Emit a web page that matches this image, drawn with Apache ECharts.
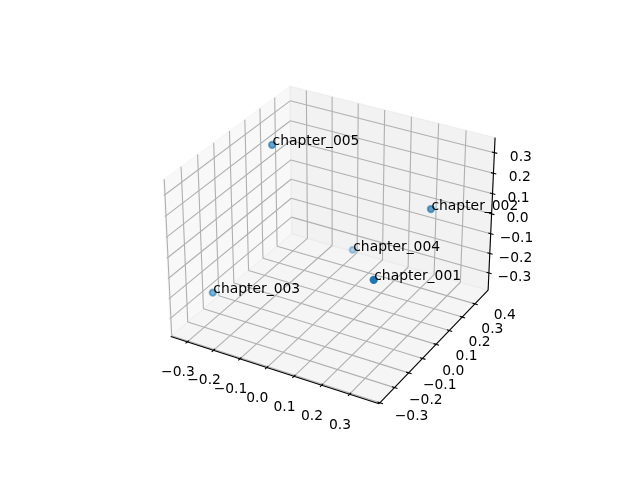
<!DOCTYPE html>
<html>
<head>
<meta charset="utf-8">
<style>html,body{margin:0;padding:0;background:#fff}#c{width:640px;height:480px}</style>
<script src="https://cdn.jsdelivr.net/npm/echarts@6/dist/echarts.min.js"></script>
</head>
<body>
<div id="c"></div>
<script>
// ---- data ----
const names = ['chapter_001', 'chapter_002', 'chapter_003', 'chapter_004', 'chapter_005'];
const xs = [0.3606, 0.2858, -0.3319, -0.0995, -0.2229];
const ys = [-0.2682, 0.2829, -0.0890, 0.4710, 0.1342];
const zs = [0.1567, 0.1160, -0.3013, -0.3531, 0.3341];
const xTicks = [-0.3, -0.2, -0.1, 0.0, 0.1, 0.2, 0.3];
const yTicks = [-0.3, -0.2, -0.1, 0.0, 0.1, 0.2, 0.3, 0.4];
const zTicks = [-0.3, -0.2, -0.1, 0.0, 0.1, 0.2, 0.3];
const xLim = [-0.3643, 0.4041];
const yLim = [-0.3064, 0.5057];
const zLim = [-0.3898, 0.3722];

// ---- 3D projection: elevation 30, azimuth about -60, eye distance 10 ----
const elev = 30 * Math.PI / 180, azim = -60.33 * Math.PI / 180, dist = 10;
const boxScale = 1.8294640721620434 * 25 / 24 / Math.sqrt(41);
const box = [4 * boxScale, 4 * boxScale, 3 * boxScale];
const W = [Math.cos(elev) * Math.cos(azim), Math.cos(elev) * Math.sin(azim), Math.sin(elev)];
const n0 = Math.hypot(W[1], W[0]);
const U = [-W[1] / n0, W[0] / n0, 0];
const V = [W[1] * U[2] - W[2] * U[1], W[2] * U[0] - W[0] * U[2], W[0] * U[1] - W[1] * U[0]];
const dot = (a, b) => a[0] * b[0] + a[1] * b[1] + a[2] * b[2];
function toBox(x, y, z) {
  return [
    ((x - xLim[0]) / (xLim[1] - xLim[0]) - 0.5) * box[0],
    ((y - yLim[0]) / (yLim[1] - yLim[0]) - 0.5) * box[1],
    ((z - zLim[0]) / (zLim[1] - zLim[0]) - 0.5) * box[2]
  ];
}
function projBox(b) {
  const d = dist - dot(b, W);
  return [dot(b, U) / d, dot(b, V) / d];
}
const proj = (x, y, z) => projBox(toBox(x, y, z));
const projOff = (x, y, z, o) => {
  const b = toBox(x, y, z);
  return projBox([b[0] + o[0], b[1] + o[1], b[2] + o[2]]);
};
const depthOf = (x, y, z) => dot(toBox(x, y, z), W);

const [x0, x1] = xLim, [y0, y1] = yLim, [z0, z1] = zLim;

// ---- panes ----
const paneColors = ['rgba(242,242,242,0.5)', 'rgba(230,230,230,0.5)', 'rgba(236,236,236,0.5)'];
const paneCorners = [
  [[x0, y0, z0], [x0, y1, z0], [x0, y1, z1], [x0, y0, z1]],
  [[x0, y1, z0], [x1, y1, z0], [x1, y1, z1], [x0, y1, z1]],
  [[x0, y0, z0], [x1, y0, z0], [x1, y1, z0], [x0, y1, z0]]
];
const paneData = paneCorners.map(c => c.map(p => proj(p[0], p[1], p[2])).flat());

// ---- grid lines, axis lines, tick marks ----
const seg = (a, b) => proj(a[0], a[1], a[2]).concat(proj(b[0], b[1], b[2]));
const gridData = [];
xTicks.forEach(t => {
  gridData.push(seg([t, y0, z0], [t, y1, z0]), seg([t, y1, z0], [t, y1, z1]));
});
yTicks.forEach(t => {
  gridData.push(seg([x1, t, z0], [x0, t, z0]), seg([x0, t, z0], [x0, t, z1]));
});
zTicks.forEach(t => {
  gridData.push(seg([x0, y0, t], [x0, y1, t]), seg([x0, y1, t], [x1, y1, t]));
});
const axisData = [
  seg([x0, y0, z0], [x1, y0, z0]),
  seg([x1, y0, z0], [x1, y1, z0]),
  seg([x1, y1, z0], [x1, y1, z1])
];
const tickIn = 0.014, tickOut = 0.016;
xTicks.forEach(t => axisData.push(
  projOff(t, y0, z0, [0, tickIn, 0]).concat(projOff(t, y0, z0, [0, -tickOut, 0]))));
yTicks.forEach(t => axisData.push(
  projOff(x1, t, z0, [-tickIn, 0, 0]).concat(projOff(x1, t, z0, [tickOut, 0, 0]))));
zTicks.forEach(t => axisData.push(
  projOff(x1, y1, t, [-tickIn, 0, 0]).concat(projOff(x1, y1, t, [tickOut, 0, 0]))));

// ---- tick labels ----
const fmt = v => v.toFixed(1).replace('-', '\u2212');
const tickLabels = [];
const tickPoints = [];
xTicks.forEach(t => { tickLabels.push(fmt(t)); tickPoints.push(projOff(t, y0, z0, [0, -0.093, -0.117])); });
yTicks.forEach(t => { tickLabels.push(fmt(t)); tickPoints.push(projOff(x1, t, z0, [0.17, 0, -0.009])); });
zTicks.forEach(t => { tickLabels.push(fmt(t)); tickPoints.push(projOff(x1, y1, t, [0.127, 0.0401, 0])); });

// ---- points, with depth shading ----
const depths = names.map((_, i) => depthOf(xs[i], ys[i], zs[i]));
const dMin = Math.min(...depths), dMax = Math.max(...depths);
const order = names.map((_, i) => i).sort((a, b) => depths[a] - depths[b]);
const pointData = order.map(i => ({
  value: proj(xs[i], ys[i], zs[i]),
  itemStyle: { opacity: 0.3 + 0.7 * (depths[i] - dMin) / (dMax - dMin) }
}));
const namePoints = names.map((_, i) => proj(xs[i], ys[i], zs[i]));

const FONT = '13.89px "DejaVu Sans"';
const GRID_W = 369.6;

const lineItem = (color, width) => (params, api) => {
  const a = api.coord([api.value(0), api.value(1)]);
  const b = api.coord([api.value(2), api.value(3)]);
  return {
    type: 'line',
    shape: { x1: a[0], y1: a[1], x2: b[0], y2: b[1] },
    style: { stroke: color, lineWidth: width, fill: null }
  };
};
const textItem = (labels, dx, dy, align) => (params, api) => {
  const p = api.coord([api.value(0), api.value(1)]);
  return {
    type: 'text',
    style: {
      x: p[0] + dx, y: p[1] + dy, text: labels[params.dataIndex],
      font: FONT, fill: '#000', align: align, verticalAlign: 'middle'
    }
  };
};

const chart = echarts.init(document.getElementById('c'), null, { renderer: 'canvas' });
chart.setOption({
  animation: false,
  backgroundColor: '#fff',
  grid: { left: 142.6, top: 57.6, width: GRID_W, height: GRID_W, containLabel: false },
  xAxis: { type: 'value', min: -0.095, max: 0.09, show: false },
  yAxis: { type: 'value', min: -0.095, max: 0.09, show: false },
  tooltip: { show: false },
  series: [
    {
      type: 'custom', name: 'panes', silent: true, clip: false, z: 1,
      data: paneData, encode: { x: [0, 2, 4, 6], y: [1, 3, 5, 7] },
      renderItem: (params, api) => {
        const pts = [];
        for (let k = 0; k < 4; k++) pts.push(api.coord([api.value(2 * k), api.value(2 * k + 1)]));
        const c = paneColors[params.dataIndex];
        return { type: 'polygon', shape: { points: pts }, style: { fill: c, stroke: c, lineWidth: 1.11 } };
      }
    },
    {
      type: 'custom', name: 'grid', silent: true, clip: false, z: 2,
      data: gridData, encode: { x: [0, 2], y: [1, 3] },
      renderItem: lineItem('#b0b0b0', 1.11)
    },
    {
      type: 'custom', name: 'axes', silent: true, clip: false, z: 3,
      data: axisData, encode: { x: [0, 2], y: [1, 3] },
      renderItem: lineItem('#000', 1.11)
    },
    {
      type: 'custom', name: 'tickLabels', silent: true, clip: false, z: 4,
      data: tickPoints, encode: { x: 0, y: 1 },
      renderItem: textItem(tickLabels, 0, 1.7, 'center')
    },
    {
      type: 'scatter', name: 'chapters', silent: true, clip: false, z: 5,
      data: pointData, symbol: 'circle', symbolSize: 6.2,
      itemStyle: { color: '#1f77b4', borderColor: '#1f77b4', borderWidth: 2.08 }
    },
    {
      type: 'custom', name: 'chapterLabels', silent: true, clip: false, z: 6,
      data: namePoints, encode: { x: 0, y: 1 },
      renderItem: textItem(names, 0.5, -3, 'left')
    }
  ]
});
</script>
</body>
</html>
